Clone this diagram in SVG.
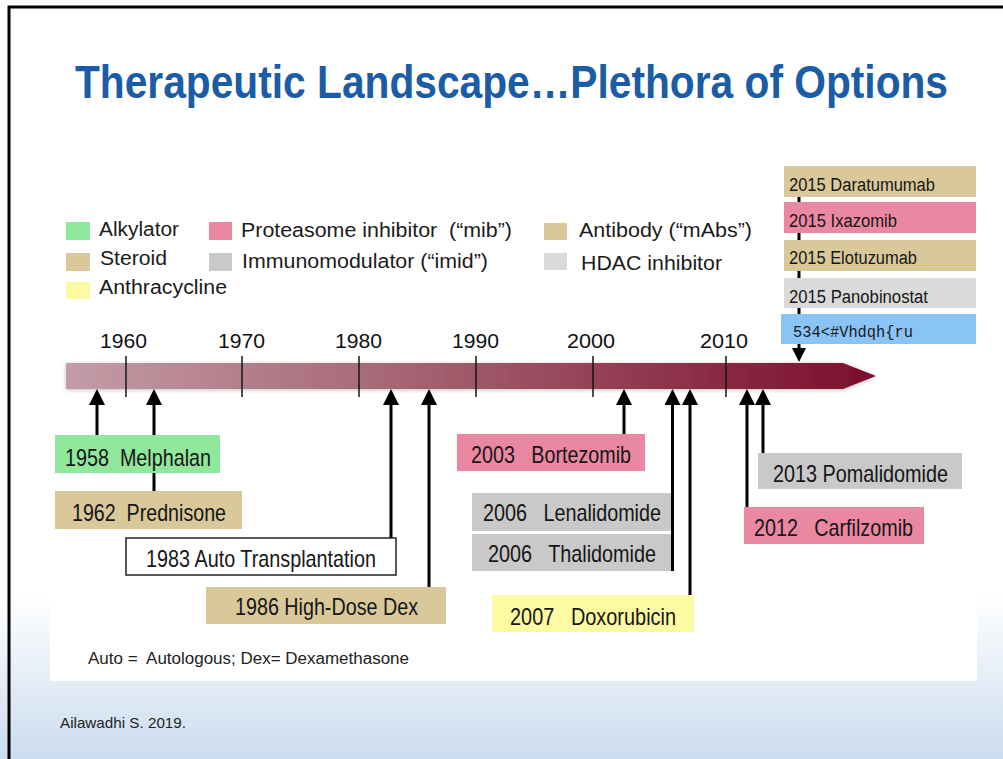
<svg xmlns="http://www.w3.org/2000/svg" width="1003" height="759" viewBox="0 0 1003 759">
  <defs>
    <linearGradient id="bgFade" x1="0" y1="0" x2="0" y2="1">
      <stop offset="0" stop-color="#ffffff"/>
      <stop offset="1" stop-color="#cbdcef"/>
    </linearGradient>
    <linearGradient id="barFill" x1="66" y1="0" x2="876" y2="0" gradientUnits="userSpaceOnUse">
      <stop offset="0" stop-color="#c39ca7"/>
      <stop offset="0.45" stop-color="#a3606f"/>
      <stop offset="1" stop-color="#7b0d2c"/>
    </linearGradient>
    <filter id="soft" x="-5%" y="-30%" width="110%" height="160%">
      <feGaussianBlur in="SourceAlpha" stdDeviation="2"/>
      <feOffset dy="1"/>
      <feComponentTransfer><feFuncA type="linear" slope="0.25"/></feComponentTransfer>
      <feMerge><feMergeNode/><feMergeNode in="SourceGraphic"/></feMerge>
    </filter>
    <marker id="head" viewBox="0 0 16 16" refX="10" refY="8" markerWidth="16" markerHeight="16" markerUnits="userSpaceOnUse" orient="auto">
      <path d="M0,0 L16,8 L0,16 Z" fill="#000"/>
    </marker>
    <marker id="headSmall" viewBox="0 0 14 14" refX="8" refY="7" markerWidth="14" markerHeight="14" markerUnits="userSpaceOnUse" orient="auto">
      <path d="M0,0 L14,7 L0,14 Z" fill="#000"/>
    </marker>
  </defs>
  <style>
    text { white-space: pre; }
    .legend { font-family: "Liberation Sans", Arial, sans-serif; font-size: 20px; fill: #1b1b1b; }
    .year { font-family: "Liberation Sans", Arial, sans-serif; font-size: 20px; fill: #111; }
    .lbl { font-family: "Liberation Sans", Arial, sans-serif; font-size: 24px; fill: #161616; }
    .stk { font-family: "Liberation Sans", Arial, sans-serif; font-size: 18px; fill: #161616; }
    .mono { font-family: "Courier New", "Liberation Mono", monospace; font-size: 16px; fill: #1b1b1b; }
    .note { font-family: "Liberation Sans", Arial, sans-serif; fill: #222; }
    .tick { stroke: #141414; stroke-width: 1.5; }
    .arrow { stroke: #000; stroke-width: 3; fill: none; marker-end: url(#head); }
    .alkylator { fill: #8fe89b; }
    .steroid { fill: #d9c99a; }
    .anthra { fill: #fdfaa4; }
    .protea { fill: #ea88a3; }
    .imid { fill: #c9c9c9; }
    .hdac { fill: #dadada; }
    .mab { fill: #d9c99a; }
    .blue { fill: #8ac3f6; }
  </style>

  <!-- slide background -->
  <rect x="0" y="0" width="1003" height="759" fill="#ffffff"/>
  <rect x="0" y="595" width="1003" height="164" fill="url(#bgFade)"/>
  <rect x="50" y="140" width="927" height="541" fill="#ffffff"/>
  <path d="M9,759 L9,7 L1003,7" fill="none" stroke="#000" stroke-width="3"/>

  <!-- title -->
  <text transform="translate(75,98) scale(1,1.12)" x="0" y="0" textLength="873" lengthAdjust="spacingAndGlyphs" font-family="'Liberation Sans', Arial, sans-serif" font-weight="bold" font-size="40.5" fill="#1a5ca6">Therapeutic Landscape…Plethora of Options</text>

  <!-- legend -->
  <g id="legend">
    <rect class="alkylator" x="66" y="222" width="24" height="18"/>
    <text class="legend" x="99" y="236" textLength="80" lengthAdjust="spacingAndGlyphs">Alkylator</text>
    <rect class="steroid" x="66" y="253" width="24" height="18"/>
    <text class="legend" x="100" y="265" textLength="67" lengthAdjust="spacingAndGlyphs">Steroid</text>
    <rect class="anthra" x="66" y="282" width="24" height="17"/>
    <text class="legend" x="99" y="294" textLength="128" lengthAdjust="spacingAndGlyphs">Anthracycline</text>
    <rect class="protea" x="209" y="222" width="23" height="18"/>
    <text class="legend" x="241" y="237" textLength="271" lengthAdjust="spacingAndGlyphs">Proteasome inhibitor  (“mib”)</text>
    <rect class="imid" x="209" y="253" width="23" height="18"/>
    <text class="legend" x="242" y="268" textLength="246" lengthAdjust="spacingAndGlyphs">Immunomodulator (“imid”)</text>
    <rect class="mab" x="544" y="223" width="23" height="17"/>
    <text class="legend" x="579" y="237" textLength="173" lengthAdjust="spacingAndGlyphs">Antibody (“mAbs”)</text>
    <rect class="hdac" x="544" y="253" width="23" height="17"/>
    <text class="legend" x="581" y="270" textLength="141" lengthAdjust="spacingAndGlyphs">HDAC inhibitor</text>
  </g>

  <!-- timeline bar with decade ticks -->
  <g id="timeline">
    <path d="M66,363 L843,363 L876,376 L843,389 L66,389 Z" fill="url(#barFill)" filter="url(#soft)"/>
    <line class="tick" x1="126" y1="356" x2="126" y2="397"/>
    <line class="tick" x1="242" y1="356" x2="242" y2="397"/>
    <line class="tick" x1="359" y1="356" x2="359" y2="397"/>
    <line class="tick" x1="476" y1="356" x2="476" y2="397"/>
    <line class="tick" x1="593" y1="356" x2="593" y2="397"/>
    <line class="tick" x1="726" y1="356" x2="726" y2="397"/>
    <text class="year" x="100" y="348" textLength="47" lengthAdjust="spacingAndGlyphs">1960</text>
    <text class="year" x="218" y="348" textLength="47" lengthAdjust="spacingAndGlyphs">1970</text>
    <text class="year" x="335" y="348" textLength="47" lengthAdjust="spacingAndGlyphs">1980</text>
    <text class="year" x="452" y="348" textLength="47" lengthAdjust="spacingAndGlyphs">1990</text>
    <text class="year" x="567" y="348" textLength="48" lengthAdjust="spacingAndGlyphs">2000</text>
    <text class="year" x="700" y="348" textLength="48" lengthAdjust="spacingAndGlyphs">2010</text>
  </g>

  <!-- connectors -->
  <g id="connectors">
    <line class="arrow" x1="97" y1="435" x2="97" y2="395"/>
    <line class="arrow" x1="154" y1="491" x2="154" y2="395"/>
    <line class="arrow" x1="391" y1="538" x2="391" y2="395"/>
    <line class="arrow" x1="429" y1="587" x2="429" y2="395"/>
    <line class="arrow" x1="624" y1="434" x2="624" y2="395"/>
    <line class="arrow" x1="672.5" y1="571" x2="672.5" y2="395"/>
    <line class="arrow" x1="690" y1="595" x2="690" y2="395"/>
    <line class="arrow" x1="747" y1="507" x2="747" y2="395"/>
    <line class="arrow" x1="763" y1="453" x2="763" y2="395"/>
    <line x1="799" y1="180" x2="799" y2="356" stroke="#000" stroke-width="3" marker-end="url(#headSmall)"/>
  </g>

  <!-- 2015 approvals stacked above the bar -->
  <g id="n-daratumumab">
    <rect class="mab" x="784" y="166" width="192" height="31"/>
    <text class="stk" x="789" y="191" textLength="146" lengthAdjust="spacingAndGlyphs">2015 Daratumumab</text>
  </g>
  <g id="n-ixazomib">
    <rect class="protea" x="784" y="202" width="192" height="31"/>
    <text class="stk" x="789" y="227" textLength="108" lengthAdjust="spacingAndGlyphs">2015 Ixazomib</text>
  </g>
  <g id="n-elotuzumab">
    <rect class="mab" x="784" y="240" width="192" height="31"/>
    <text class="stk" x="789" y="264" textLength="128" lengthAdjust="spacingAndGlyphs">2015 Elotuzumab</text>
  </g>
  <g id="n-panobinostat">
    <rect class="hdac" x="784" y="278" width="192" height="30"/>
    <text class="stk" x="789" y="303" textLength="139" lengthAdjust="spacingAndGlyphs">2015 Panobinostat</text>
  </g>
  <g id="n-2016">
    <rect class="blue" x="781" y="314" width="195" height="30"/>
    <text class="mono" x="793" y="337" textLength="120" lengthAdjust="spacingAndGlyphs">534&lt;#Vhdqh{ru</text>
  </g>

  <!-- approvals below the bar -->
  <g id="n-melphalan">
    <rect class="alkylator" x="55" y="435" width="165" height="38"/>
    <text class="lbl" x="65" y="466" textLength="146" lengthAdjust="spacingAndGlyphs">1958  Melphalan</text>
  </g>
  <g id="n-prednisone">
    <rect class="steroid" x="55" y="491" width="187" height="38"/>
    <text class="lbl" x="72" y="521" textLength="154" lengthAdjust="spacingAndGlyphs">1962  Prednisone</text>
  </g>
  <g id="n-auto-transplant">
    <rect x="126" y="538" width="270" height="37" fill="#fff" stroke="#222" stroke-width="1.5"/>
    <text class="lbl" x="146" y="567" textLength="230" lengthAdjust="spacingAndGlyphs">1983 Auto Transplantation</text>
  </g>
  <g id="n-high-dose-dex">
    <rect class="steroid" x="206" y="587" width="240" height="37"/>
    <text class="lbl" x="235" y="615" textLength="183" lengthAdjust="spacingAndGlyphs">1986 High-Dose Dex</text>
  </g>
  <g id="n-bortezomib">
    <rect class="protea" x="457" y="434" width="188" height="37"/>
    <text class="lbl" x="471" y="463" textLength="160" lengthAdjust="spacingAndGlyphs">2003   Bortezomib</text>
  </g>
  <g id="n-lenalidomide">
    <rect class="imid" x="472" y="493" width="199" height="38"/>
    <text class="lbl" x="483" y="521" textLength="178" lengthAdjust="spacingAndGlyphs">2006   Lenalidomide</text>
  </g>
  <g id="n-thalidomide">
    <rect class="imid" x="472" y="534" width="199" height="37"/>
    <text class="lbl" x="488" y="562" textLength="168" lengthAdjust="spacingAndGlyphs">2006   Thalidomide</text>
  </g>
  <g id="n-doxorubicin">
    <rect class="anthra" x="492" y="595" width="202" height="37"/>
    <text class="lbl" x="510" y="625" textLength="166" lengthAdjust="spacingAndGlyphs">2007   Doxorubicin</text>
  </g>
  <g id="n-pomalidomide">
    <rect class="imid" x="758" y="453" width="204" height="36"/>
    <text class="lbl" x="773" y="482" textLength="175" lengthAdjust="spacingAndGlyphs">2013 Pomalidomide</text>
  </g>
  <g id="n-carfilzomib">
    <rect class="protea" x="744" y="507" width="180" height="37"/>
    <text class="lbl" x="754" y="536" textLength="159" lengthAdjust="spacingAndGlyphs">2012   Carfilzomib</text>
  </g>

  <!-- footnotes -->
  <text class="note" x="88" y="664" font-size="16" textLength="321" lengthAdjust="spacingAndGlyphs">Auto =  Autologous; Dex= Dexamethasone</text>
  <text class="note" x="60" y="728" font-size="15" textLength="126" lengthAdjust="spacingAndGlyphs">Ailawadhi S. 2019.</text>
</svg>
